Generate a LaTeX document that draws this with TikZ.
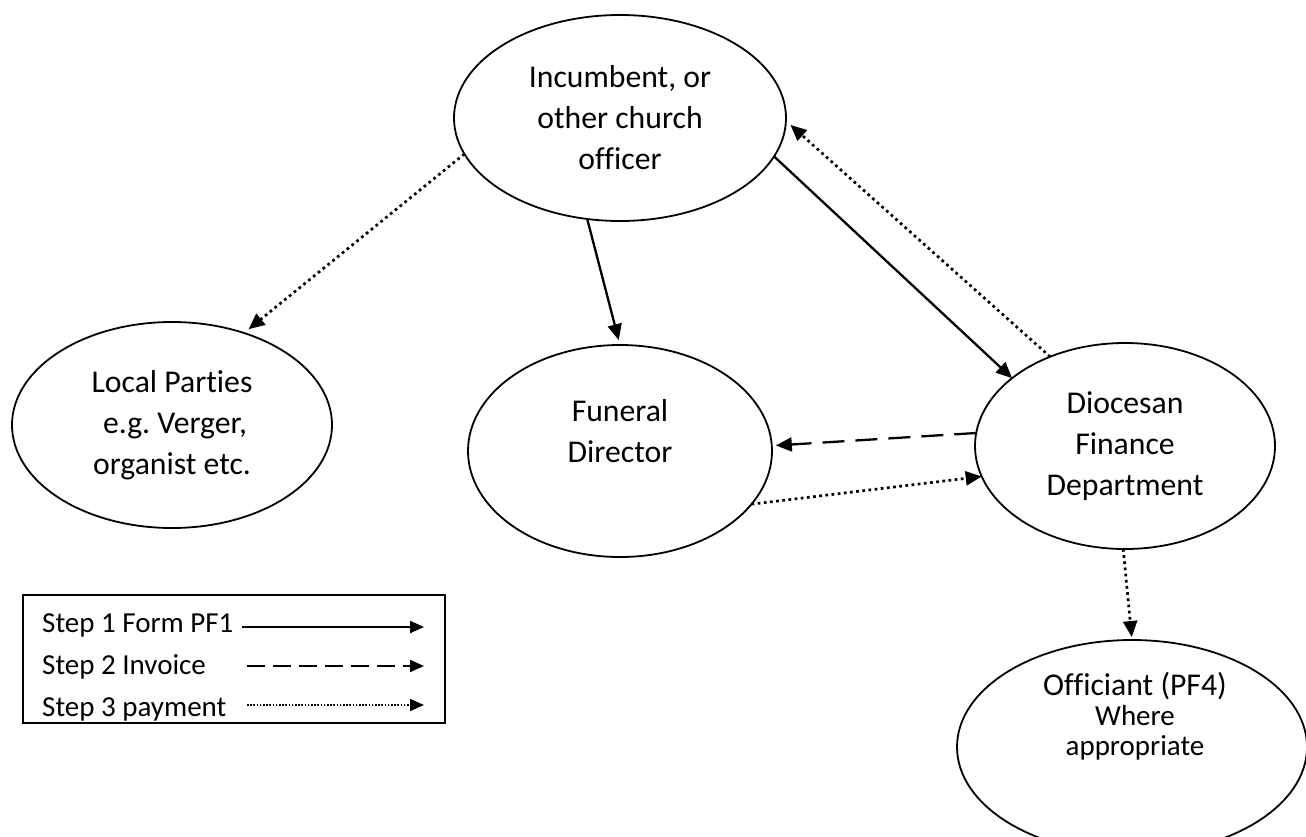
\documentclass[tikz,border=0pt]{standalone}
\usepackage{fontspec}
\setmainfont{Carlito}[Ligatures=NoCommon]
\usetikzlibrary{shapes.geometric,arrows.meta}
\frenchspacing
\begin{document}
\begin{tikzpicture}[x=1pt,y=-1pt,
  bub/.style={ellipse,draw,line width=1.8pt,inner sep=0pt,outer sep=0pt,align=center,
    font=\fontsize{31.7}{41}\selectfont},
  tipend/.style={-{Triangle[length=16pt,width=14pt]}},
  formline/.style={tipend,line width=2.3pt},
  invline/.style={tipend,line width=2.3pt,dash pattern=on 22pt off 11pt},
  payline/.style={tipend,line width=2.7pt,dash pattern=on 2.7pt off 3.5pt},
  legtext/.style={anchor=base west,inner sep=0pt,font=\fontsize{29}{35}\selectfont},
  legform/.style={-{Triangle[length=14pt,width=12pt]},line width=2pt},
  leginv/.style={-{Triangle[length=14pt,width=12pt]},line width=2pt,dash pattern=on 18pt off 8pt},
  legpay/.style={-{Triangle[length=14pt,width=12pt]},line width=1.6pt,dash pattern=on 1.6pt off 1.6pt}
]
\useasboundingbox (0,0) rectangle (1306,836);

\node[bub,minimum width=332pt,minimum height=206pt] (inc) at (620,118)
  {Incumbent, or\\other church\\officer};
\node[bub,minimum width=320pt,minimum height=206pt] (loc) at (172,425)
  {Local Parties\\\hspace*{6pt}e.g. Verger,\\organist etc.};
\node[bub,minimum width=304pt,minimum height=212pt] (fd) at (620,451)
  {Funeral\\Director\\\mbox{}};
\node[bub,minimum width=300pt,minimum height=206pt] (dfd) at (1125,446)
  {Diocesan\\Finance\\Department};
\node[bub,minimum width=350pt,minimum height=214pt] (off) at (1132,747) {};
\node[align=center,inner sep=0pt,font=\fontsize{29}{30}\selectfont] (offtxt) at (1135,716)
  {{\fontsize{31.7}{32}\selectfont Officiant (PF4)}\\Where\\appropriate};

% connectors
\draw[formline,shorten >=5pt] (inc.252) -- (fd.90);
\draw[formline] (inc.346.6) -- (dfd.149);
\draw[payline,shorten >=6pt] (dfd.130.2) -- (inc.359);
\draw[payline,shorten >=6pt] (inc.193.2) -- (loc.52.6);
\draw[invline,shorten >=4pt] (dfd.175.5) -- (fd.2);
\draw[payline] (fd.338) -- (dfd.192.7);
\draw[payline,shorten >=3pt] (dfd.269) -- (off.90);

% legend
\node[draw,line width=1.5pt,minimum width=422pt,minimum height=128pt,inner sep=0pt] (leg) at (234,659) {};
\node[legtext] (l1) at (42,632) {Step 1 Form PF1};
\node[legtext] (l2) at (42,674) {Step 2 Invoice};
\node[legtext] (l3) at (42,716) {Step 3 payment};
\coordinate (a1) at (242,627); \coordinate (b1) at (424,627);
\coordinate (a2) at (247,666); \coordinate (b2) at (424,666);
\coordinate (a3) at (247,705); \coordinate (b3) at (424,705);
\draw[legform] (a1) -- (b1);
\draw[leginv] (a2) -- (b2);
\draw[legpay] (a3) -- (b3);
\end{tikzpicture}
\end{document}
